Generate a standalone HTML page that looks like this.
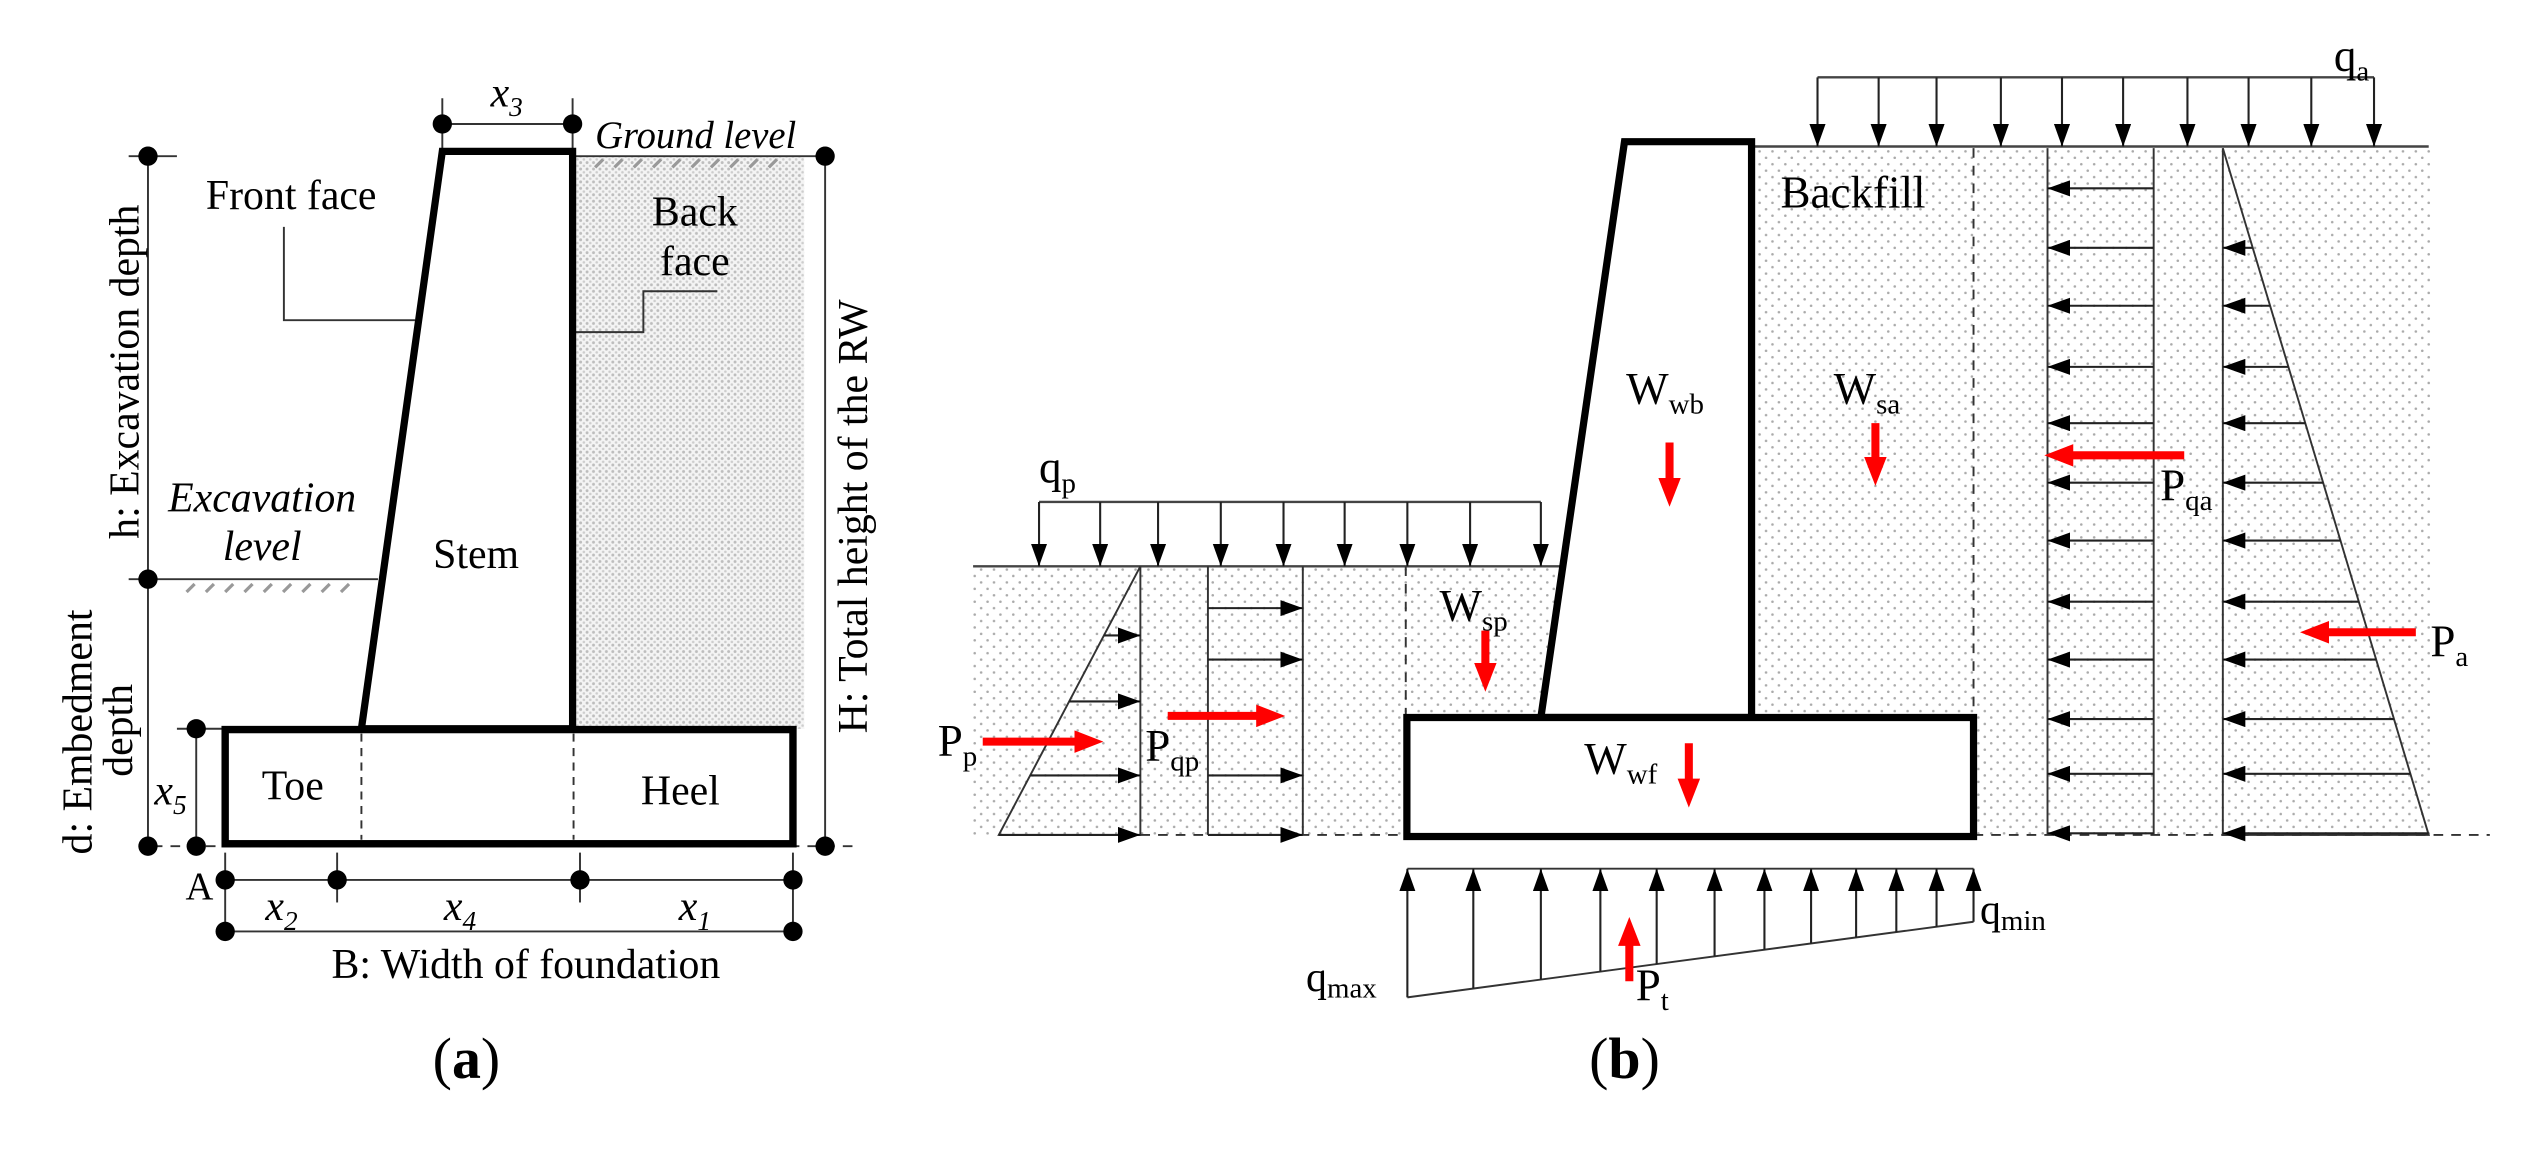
<!DOCTYPE html>
<html><head><meta charset="utf-8"><style>html,body{margin:0;padding:0;background:#fff}svg{display:block}svg,svg text,svg tspan{font-family:"Liberation Serif","Times New Roman",Times,"DejaVu Serif","Noto Serif CJK SC",serif !important}</style></head>
<body>
<svg width="2522" height="1168" viewBox="0 0 1568 726" xmlns="http://www.w3.org/2000/svg" font-family="Liberation Serif">
<defs>
<pattern id="dg" width="4" height="4" patternUnits="userSpaceOnUse"><rect width="4" height="4" fill="#f4f4f4"/><circle cx="1" cy="1" r="0.9" fill="#bdbdbd"/><circle cx="3" cy="3" r="0.8" fill="#cdcdcd"/></pattern>
<pattern id="ds" width="8" height="8" patternUnits="userSpaceOnUse"><rect width="8" height="8" fill="#fff"/><circle cx="2" cy="2" r="0.8" fill="#aaa"/><circle cx="6" cy="6" r="0.8" fill="#aaa"/></pattern>
<marker id="ah" markerUnits="userSpaceOnUse" markerWidth="14" markerHeight="10" refX="14" refY="5" orient="auto"><path d="M0,0 L14,5 L0,10 z" fill="#000"/></marker>
<marker id="rh" markerUnits="userSpaceOnUse" markerWidth="18" markerHeight="14" refX="6" refY="7" orient="auto"><path d="M0,0 L18,7 L0,14 z" fill="#f00"/></marker>
</defs>

<rect x="358" y="97" width="142" height="356" fill="url(#dg)"/>
<g stroke="#333" stroke-width="1.2" fill="none">
<line x1="92" y1="97" x2="92" y2="526"/>
<line x1="80" y1="97" x2="110" y2="97"/>
<line x1="122" y1="453" x2="122" y2="526"/>
<line x1="110" y1="453" x2="140" y2="453"/>
<line x1="513" y1="97" x2="513" y2="526"/>
<line x1="356" y1="97" x2="513" y2="97"/>
<line x1="80" y1="360" x2="235" y2="360"/>
<line x1="275" y1="77" x2="356" y2="77"/>
<line x1="275" y1="61" x2="275" y2="94"/>
<line x1="356" y1="61" x2="356" y2="94"/>
<line x1="95" y1="526" x2="535" y2="526" stroke-dasharray="6,5"/>
<line x1="140" y1="530" x2="140" y2="579"/>
<line x1="493" y1="530" x2="493" y2="579"/>
<line x1="209.6" y1="530" x2="209.6" y2="561"/>
<line x1="360.6" y1="530" x2="360.6" y2="561"/>
<line x1="140" y1="547" x2="493" y2="547"/>
<line x1="140" y1="579" x2="493" y2="579"/>
<polyline points="176.5,141 176.5,199 258,199"/>
<polyline points="357,206.4 400,206.4 400,181 446,181"/>
</g>
<g stroke="#999" stroke-width="2">
<line x1="370" y1="104" x2="375" y2="99"/><line x1="382" y1="104" x2="387" y2="99"/><line x1="394" y1="104" x2="399" y2="99"/><line x1="406" y1="104" x2="411" y2="99"/><line x1="418" y1="104" x2="423" y2="99"/><line x1="430" y1="104" x2="435" y2="99"/><line x1="442" y1="104" x2="447" y2="99"/><line x1="454" y1="104" x2="459" y2="99"/><line x1="466" y1="104" x2="471" y2="99"/><line x1="478" y1="104" x2="483" y2="99"/>
<line x1="116" y1="368" x2="121" y2="363"/><line x1="128" y1="368" x2="133" y2="363"/><line x1="140" y1="368" x2="145" y2="363"/><line x1="152" y1="368" x2="157" y2="363"/><line x1="164" y1="368" x2="169" y2="363"/><line x1="176" y1="368" x2="181" y2="363"/><line x1="188" y1="368" x2="193" y2="363"/><line x1="200" y1="368" x2="205" y2="363"/><line x1="212" y1="368" x2="217" y2="363"/>
</g>
<polygon points="275,94 356,94 356,453 224.7,453" fill="#fff" stroke="#000" stroke-width="4.5" stroke-linejoin="miter"/>
<rect x="140" y="453.5" width="353" height="71" fill="none" stroke="#000" stroke-width="4.6"/>
<line x1="224.7" y1="456" x2="224.7" y2="522" stroke="#333" stroke-width="1.2" stroke-dasharray="5,4"/>
<line x1="356.6" y1="456" x2="356.6" y2="522" stroke="#333" stroke-width="1.2" stroke-dasharray="5,4"/>
<g fill="#000">
<circle cx="92" cy="97" r="6"/><circle cx="92" cy="360" r="6"/><circle cx="92" cy="526" r="6"/>
<circle cx="122" cy="453" r="6"/><circle cx="122" cy="526" r="6"/>
<circle cx="513" cy="97" r="6"/><circle cx="513" cy="526" r="6"/>
<circle cx="275" cy="77" r="6"/><circle cx="356" cy="77" r="6"/>
<circle cx="140" cy="547" r="6"/><circle cx="209.6" cy="547" r="6"/><circle cx="360.6" cy="547" r="6"/><circle cx="493" cy="547" r="6"/>
<circle cx="140" cy="579" r="6"/><circle cx="493" cy="579" r="6"/>
</g>
<g font-size="26" fill="#000">
<text x="305" y="66" font-style="italic">x<tspan font-size="17" dy="6">3</tspan></text>
<text x="370" y="92" font-style="italic" font-size="24">Ground level</text>
<text x="128" y="130">Front face</text>
<text x="432" y="140" text-anchor="middle">Back</text>
<text x="432" y="171" text-anchor="middle">face</text>
<text transform="translate(77,231) rotate(-90)" text-anchor="middle" dy="9">h: Excavation depth</text>
<text transform="translate(48,455) rotate(-90)" text-anchor="middle" dy="9">d: Embedment</text>
<text transform="translate(73,454) rotate(-90)" text-anchor="middle" dy="9">depth</text>
<text transform="translate(530,321) rotate(-90)" text-anchor="middle" dy="9">H: Total height of the RW</text>
<text x="163" y="318" font-style="italic" text-anchor="middle">Excavation</text>
<text x="163" y="348" font-style="italic" text-anchor="middle">level</text>
<text x="296" y="353" text-anchor="middle">Stem</text>
<text x="182" y="497" text-anchor="middle">Toe</text>
<text x="423" y="500" text-anchor="middle">Heel</text>
<text x="96" y="500" font-style="italic">x<tspan font-size="17" dy="6">5</tspan></text>
<text x="124" y="559" text-anchor="middle" font-size="24">A</text>
<text x="165" y="572" font-style="italic">x<tspan font-size="17" dy="6">2</tspan></text>
<text x="276" y="572" font-style="italic">x<tspan font-size="17" dy="6">4</tspan></text>
<text x="422" y="572" font-style="italic">x<tspan font-size="17" dy="6">1</tspan></text>
<text x="327" y="608" text-anchor="middle">B: Width of foundation</text>
<text x="290" y="670" text-anchor="middle" font-size="36">(<tspan font-weight="bold">a</tspan>)</text>
</g>

<rect x="605" y="352" width="370" height="167" fill="url(#ds)"/>
<rect x="1089" y="92" width="423" height="427" fill="url(#ds)"/>
<g stroke="#444" stroke-width="1.5" fill="none">
<line x1="1089" y1="91" x2="1510" y2="91"/>
<line x1="605" y1="352" x2="970" y2="352"/>
<line x1="1130" y1="48" x2="1476" y2="48"/>
<line x1="646" y1="312" x2="958" y2="312"/>
</g>
<g stroke="#333" stroke-width="1.2" fill="none">
<line x1="1227" y1="92" x2="1227" y2="446" stroke-dasharray="6,5"/>
<line x1="874" y1="352" x2="874" y2="446" stroke-dasharray="6,5"/>
<line x1="709" y1="519" x2="874" y2="519" stroke-dasharray="6,5"/>
<line x1="1227" y1="519" x2="1548" y2="519" stroke-dasharray="6,5"/>
<line x1="1273" y1="92" x2="1273" y2="519"/>
<line x1="1339" y1="92" x2="1339" y2="519"/>
<polyline points="1382,92 1382,519 1510,519 1382,92"/>
<polyline points="709,352 709,519 621,519 709,352"/>
<line x1="751" y1="352" x2="751" y2="519"/>
<line x1="810" y1="352" x2="810" y2="519"/>
<line x1="875" y1="540" x2="1227" y2="540"/>
<line x1="875" y1="620" x2="1227" y2="573"/>
</g>
<polygon points="1010,88 1089,88 1089,446 958,446" fill="#fff" stroke="#000" stroke-width="4.5"/>
<rect x="874.7" y="446" width="352.3" height="74" fill="#fff" stroke="#000" stroke-width="4.5"/>
<g stroke="#222" stroke-width="1.3" marker-end="url(#ah)">
<line x1="1130" y1="48" x2="1130" y2="91"/><line x1="1168" y1="48" x2="1168" y2="91"/><line x1="1204" y1="48" x2="1204" y2="91"/><line x1="1244" y1="48" x2="1244" y2="91"/><line x1="1282" y1="48" x2="1282" y2="91"/><line x1="1320" y1="48" x2="1320" y2="91"/><line x1="1360" y1="48" x2="1360" y2="91"/><line x1="1398" y1="48" x2="1398" y2="91"/><line x1="1437" y1="48" x2="1437" y2="91"/><line x1="1476" y1="48" x2="1476" y2="91"/>
<line x1="646" y1="312" x2="646" y2="352"/><line x1="684" y1="312" x2="684" y2="352"/><line x1="720" y1="312" x2="720" y2="352"/><line x1="759" y1="312" x2="759" y2="352"/><line x1="798" y1="312" x2="798" y2="352"/><line x1="836" y1="312" x2="836" y2="352"/><line x1="875" y1="312" x2="875" y2="352"/><line x1="914" y1="312" x2="914" y2="352"/><line x1="958" y1="312" x2="958" y2="352"/>
<line x1="1339" y1="117" x2="1273" y2="117"/><line x1="1339" y1="154" x2="1273" y2="154"/><line x1="1339" y1="190" x2="1273" y2="190"/><line x1="1339" y1="228" x2="1273" y2="228"/><line x1="1339" y1="263" x2="1273" y2="263"/><line x1="1339" y1="300" x2="1273" y2="300"/><line x1="1339" y1="336" x2="1273" y2="336"/><line x1="1339" y1="374" x2="1273" y2="374"/><line x1="1339" y1="410" x2="1273" y2="410"/><line x1="1339" y1="447" x2="1273" y2="447"/><line x1="1339" y1="481" x2="1273" y2="481"/><line x1="1339" y1="518" x2="1273" y2="518"/>
<line x1="1400.6" y1="154" x2="1382" y2="154"/><line x1="1411.4" y1="190" x2="1382" y2="190"/><line x1="1422.8" y1="228" x2="1382" y2="228"/><line x1="1433.3" y1="263" x2="1382" y2="263"/><line x1="1444.4" y1="300" x2="1382" y2="300"/><line x1="1455.2" y1="336" x2="1382" y2="336"/><line x1="1466.5" y1="374" x2="1382" y2="374"/><line x1="1477.3" y1="410" x2="1382" y2="410"/><line x1="1488.4" y1="447" x2="1382" y2="447"/><line x1="1498.6" y1="481" x2="1382" y2="481"/><line x1="1509.7" y1="518" x2="1382" y2="518"/>
<line x1="686.3" y1="395" x2="709" y2="395"/><line x1="664.7" y1="436" x2="709" y2="436"/><line x1="640.5" y1="482" x2="709" y2="482"/><line x1="621" y1="519" x2="709" y2="519"/>
<line x1="751" y1="378" x2="810" y2="378"/><line x1="751" y1="410" x2="810" y2="410"/><line x1="751" y1="482" x2="810" y2="482"/><line x1="751" y1="519" x2="810" y2="519"/>
<line x1="875" y1="620" x2="875" y2="540"/><line x1="916" y1="614.5" x2="916" y2="540"/><line x1="958" y1="608.9" x2="958" y2="540"/><line x1="995" y1="603.9" x2="995" y2="540"/><line x1="1030" y1="599.3" x2="1030" y2="540"/><line x1="1066" y1="594.5" x2="1066" y2="540"/><line x1="1097" y1="590.3" x2="1097" y2="540"/><line x1="1126" y1="586.5" x2="1126" y2="540"/><line x1="1154" y1="582.7" x2="1154" y2="540"/><line x1="1179" y1="579.4" x2="1179" y2="540"/><line x1="1204" y1="576.1" x2="1204" y2="540"/><line x1="1227" y1="573" x2="1227" y2="540"/>
</g>
<g stroke="#f00" stroke-width="5" marker-end="url(#rh)">
<line x1="1038" y1="275" x2="1038" y2="303"/>
<line x1="1166" y1="263" x2="1166" y2="290"/>
<line x1="1358" y1="283" x2="1283" y2="283"/>
<line x1="1502" y1="393" x2="1442" y2="393"/>
<line x1="923.5" y1="392" x2="923.5" y2="418"/>
<line x1="611" y1="461" x2="674" y2="461"/>
<line x1="726" y1="445" x2="787" y2="445"/>
<line x1="1050" y1="462" x2="1050" y2="490"/>
<line x1="1013" y1="610" x2="1013" y2="582"/>
</g>
<g font-size="28" fill="#000">
<text x="1451" y="44">q<tspan font-size="18" dy="6">a</tspan></text>
<text x="646" y="300">q<tspan font-size="18" dy="6">p</tspan></text>
<text x="1107" y="129">Backfill</text>
<text x="1011" y="251">W<tspan font-size="18" dy="6">wb</tspan></text>
<text x="1140" y="251">W<tspan font-size="18" dy="6">sa</tspan></text>
<text x="1343" y="311">P<tspan font-size="18" dy="6">qa</tspan></text>
<text x="1511" y="408">P<tspan font-size="18" dy="6">a</tspan></text>
<text x="895" y="386">W<tspan font-size="18" dy="6">sp</tspan></text>
<text x="583" y="470">P<tspan font-size="18" dy="6">p</tspan></text>
<text x="712" y="473">P<tspan font-size="18" dy="6">qp</tspan></text>
<text x="985" y="481">W<tspan font-size="18" dy="6">wf</tspan></text>
<text x="812" y="616" font-size="26">q<tspan font-size="18" dy="4">max</tspan></text>
<text x="1231" y="574" font-size="26">q<tspan font-size="18" dy="4">min</tspan></text>
<text x="1017" y="622">P<tspan font-size="18" dy="6">t</tspan></text>
<text x="1010" y="670" text-anchor="middle" font-size="36">(<tspan font-weight="bold">b</tspan>)</text>
</g>
</svg>
</body></html>
